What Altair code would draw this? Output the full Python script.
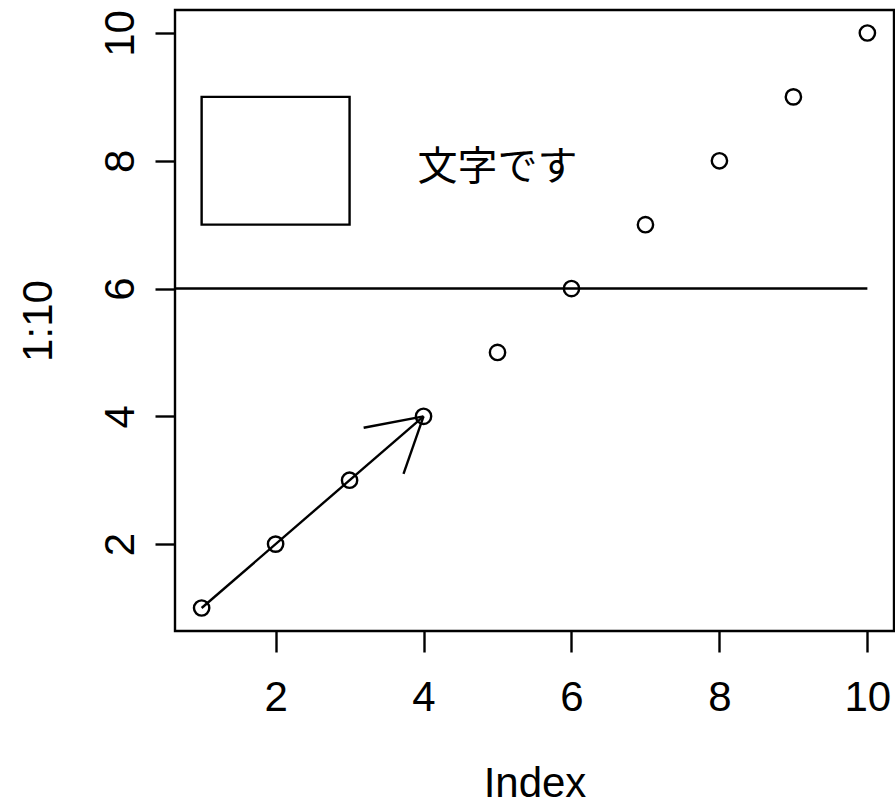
import math
import altair as alt
import pandas as pd

# ---- data ----
index_vals = [1, 2, 3, 4, 5, 6, 7, 8, 9, 10]
y_vals = [1, 2, 3, 4, 5, 6, 7, 8, 9, 10]
rect_x, rect_x2, rect_y, rect_y2 = [1], [3], [7], [9]
arrow_from = (1, 1)
arrow_to = (4, 4)
hline_x = [0, 10]
hline_y = 6
label_text = ["文字です"]
label_x = [5]
label_y = [8]
ticks = [2, 4, 6, 8, 10]

# ---- layout ----
W, H = 719, 621
XD = [0.64, 10.36]
YD = [0.64, 10.36]
FONT = "Liberation Sans"
LW = 2.4

xs = alt.Scale(domain=XD, nice=False, zero=False)
ys = alt.Scale(domain=YD, nice=False, zero=False)

xaxis = alt.Axis(values=ticks, format="d", domain=False, grid=False, tickSize=21,
                 tickWidth=LW, tickColor="black", labelFont=FONT, labelFontSize=42,
                 labelColor="black", labelBaseline="top", labelPadding=25,
                 title="Index", titleFont=FONT, titleFontSize=42,
                 titleFontWeight="normal", titleColor="black",
                 titleBaseline="alphabetic", titleY=165, labelFlush=False)
yaxis = alt.Axis(values=ticks, format="d", domain=False, grid=False, tickSize=20,
                 tickWidth=LW, tickColor="black", labelFont=FONT, labelFontSize=42,
                 labelColor="black", labelAngle=270, labelAlign="center",
                 labelBaseline="alphabetic", labelPadding=22, title="1:10",
                 titleFont=FONT, titleFontSize=42, titleFontWeight="normal",
                 titleColor="black", titleAngle=270, titleBaseline="alphabetic",
                 titleX=-124, titleAlign="center", labelFlush=False)

pts = pd.DataFrame({"x": index_vals, "y": y_vals})

points = alt.Chart(pts).mark_point(shape="circle", filled=False, color="black",
                                   size=235, strokeWidth=LW, opacity=1).encode(
    x=alt.X("x:Q", scale=xs, axis=xaxis),
    y=alt.Y("y:Q", scale=ys, axis=yaxis),
)

# arrow shaft + head (head computed from the arrow endpoints, 30 deg, fixed length)
sx = W / (XD[1] - XD[0])
sy = H / (YD[1] - YD[0])
x0, y0 = arrow_from
x1, y1 = arrow_to
ang = math.atan2((y1 - y0) * sy, (x1 - x0) * sx)
L = 61
segs = [dict(x=x0, y=y0, x2=x1, y2=y1)]
for d in (-math.radians(30), math.radians(30)):
    a = ang + math.pi + d
    segs.append(dict(x=x1, y=y1, x2=x1 + L * math.cos(a) / sx, y2=y1 + L * math.sin(a) / sy))
segs.append(dict(x=hline_x[0], y=hline_y, x2=hline_x[1], y2=hline_y))
seg_df = pd.DataFrame(segs)

lines = alt.Chart(seg_df).mark_rule(color="black", strokeWidth=LW, clip=True).encode(
    x=alt.X("x:Q", scale=xs, axis=xaxis), y=alt.Y("y:Q", scale=ys, axis=yaxis),
    x2="x2:Q", y2="y2:Q",
)

rect_df = pd.DataFrame({"x": rect_x, "x2": rect_x2, "y": rect_y, "y2": rect_y2})
rect = alt.Chart(rect_df).mark_rect(fill=None, fillOpacity=0, stroke="black",
                                    strokeWidth=LW).encode(
    x=alt.X("x:Q", scale=xs, axis=xaxis), x2="x2:Q",
    y=alt.Y("y:Q", scale=ys, axis=yaxis), y2="y2:Q",
)

txt_df = pd.DataFrame({"x": label_x, "y": label_y, "t": label_text})
text = alt.Chart(txt_df).mark_text(font="Noto Sans CJK JP", fontSize=40, color="black",
                                   align="center", baseline="middle", dy=7).encode(
    x=alt.X("x:Q", scale=xs, axis=xaxis), y=alt.Y("y:Q", scale=ys, axis=yaxis),
    text="t:N",
)

chart = alt.layer(points, rect, lines, text).properties(
    width=W, height=H,
    autosize=alt.AutoSizeParams(type="none"),
    padding={"left": 175, "top": 10, "right": 1, "bottom": 172},
    background="white",
).configure_view(stroke="black", strokeWidth=LW)

chart.save("out.html", embed_options={"renderer": "svg", "actions": False})
